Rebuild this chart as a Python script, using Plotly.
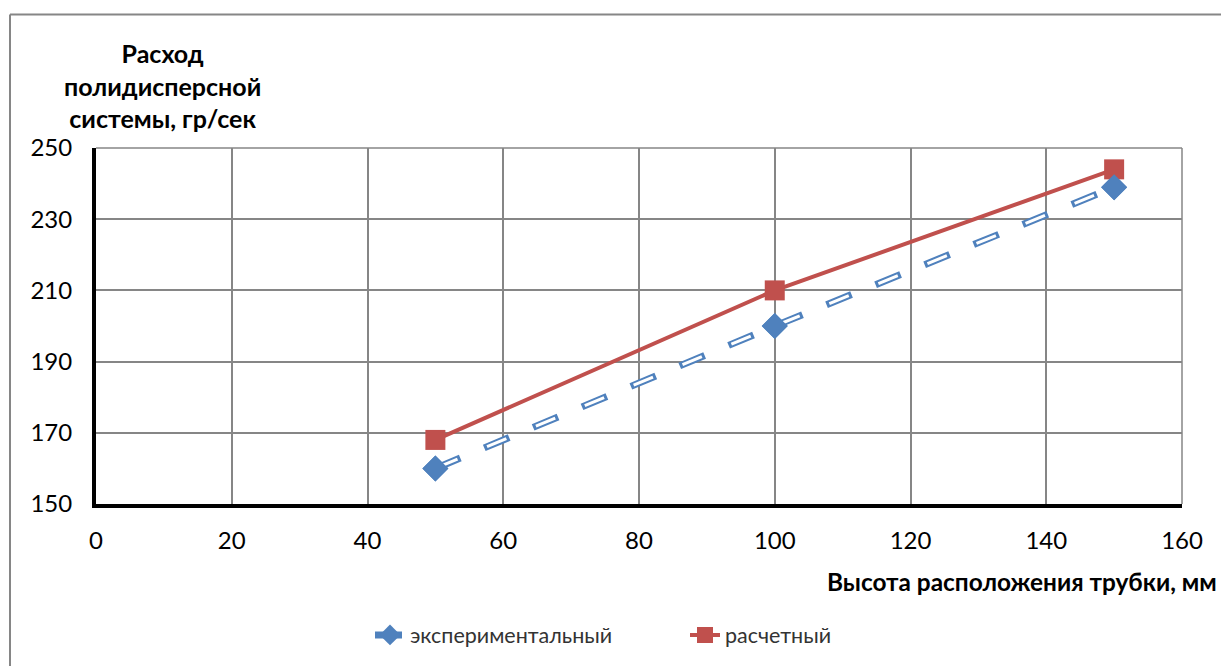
import plotly.graph_objects as go

x_vals = [50, 100, 150]
exp_vals = [160, 200, 239]
calc_vals = [168, 210, 244]
exp_name = "экспериментальный"
calc_name = "расчетный"
y_title = "Расход<br>полидисперсной<br>системы, гр/сек"
x_title = "Высота расположения трубки, мм"

BLUE = "#4F81BD"
RED = "#C0504D"
FONT = "Lato"

fig = go.Figure()
fig.add_trace(go.Scatter(x=x_vals, y=exp_vals, mode="lines+markers", name=exp_name,
                         line=dict(color=BLUE, width=7, dash="27px,26px"),
                         marker=dict(symbol="diamond", size=20, color=BLUE)))
fig.add_trace(go.Scatter(x=x_vals, y=exp_vals, mode="lines", showlegend=False, hoverinfo="skip",
                         line=dict(color="white", width=3, dash="0px,3px,21px,29px")))
fig.add_trace(go.Scatter(x=x_vals, y=calc_vals, mode="lines+markers", name=calc_name,
                         line=dict(color=RED, width=4),
                         marker=dict(symbol="square", size=20, color=RED)))
fig.add_trace(go.Scatter(x=x_vals, y=exp_vals, mode="markers", showlegend=False, hoverinfo="skip",
                         marker=dict(symbol="diamond", size=20, color=BLUE)))

W, H = 1221, 666
L, R, T, B = 96, 1182, 148, 505
pw, ph = R - L, B - T

def px(xp):
    return (xp - L) / pw

def py(yp):
    return (B - yp) / ph

GRID = "#868686"
fig.update_layout(
    width=W, height=H,
    margin=dict(l=L, r=W - R, t=T, b=H - B),
    paper_bgcolor="white", plot_bgcolor="white",
    font=dict(family=FONT, size=24, color="black"),
    showlegend=True,
    legend=dict(orientation="h", x=px(370), xanchor="left", y=py(635), yanchor="middle",
                font=dict(size=21.5, color="#333333"), entrywidth=270),
    xaxis=dict(range=[0, 160], dtick=20, tick0=0, showgrid=True, gridcolor=GRID, gridwidth=1.5,
               zeroline=False, showline=True, linecolor="black", linewidth=4,
               ticks="outside", ticklen=12, tickcolor="rgba(0,0,0,0)",
               tickfont=dict(size=24, family=FONT)),
    yaxis=dict(range=[150, 250], dtick=20, tick0=150, showgrid=True, gridcolor=GRID, gridwidth=1.5,
               zeroline=False, showline=True, linecolor="black", linewidth=4,
               ticks="outside", ticklen=15, tickcolor="rgba(0,0,0,0)",
               tickfont=dict(size=24, family=FONT)),
    shapes=[
        dict(type="line", xref="paper", yref="paper", x0=0, x1=1, y0=1, y1=1,
             line=dict(color=GRID, width=1.5), layer="below"),
        dict(type="line", xref="paper", yref="paper", x0=1, x1=1, y0=0, y1=1,
             line=dict(color=GRID, width=1.5), layer="below"),
        dict(type="line", xref="paper", yref="paper", x0=px(10), x1=px(10), y0=py(668), y1=py(14),
             line=dict(color=GRID, width=2)),
        dict(type="line", xref="paper", yref="paper", x0=px(10), x1=px(1225), y0=py(14), y1=py(14),
             line=dict(color=GRID, width=2)),
    ],
    annotations=[
        dict(text="<b>" + y_title + "</b>", xref="paper", yref="paper", x=px(162), y=py(85),
             xanchor="center", yanchor="middle", showarrow=False, align="center",
             font=dict(size=25, family=FONT, color="black")),
        dict(text="<b>" + x_title + "</b>", xref="paper", yref="paper", x=px(1219), y=py(583),
             xanchor="right", yanchor="middle", showarrow=False,
             font=dict(size=24.4, family=FONT, color="black")),
    ],
)

fig.write_html("out.html", config={"displayModeBar": False},
               post_script="document.body.style.margin='0';document.body.style.overflow='hidden';")
